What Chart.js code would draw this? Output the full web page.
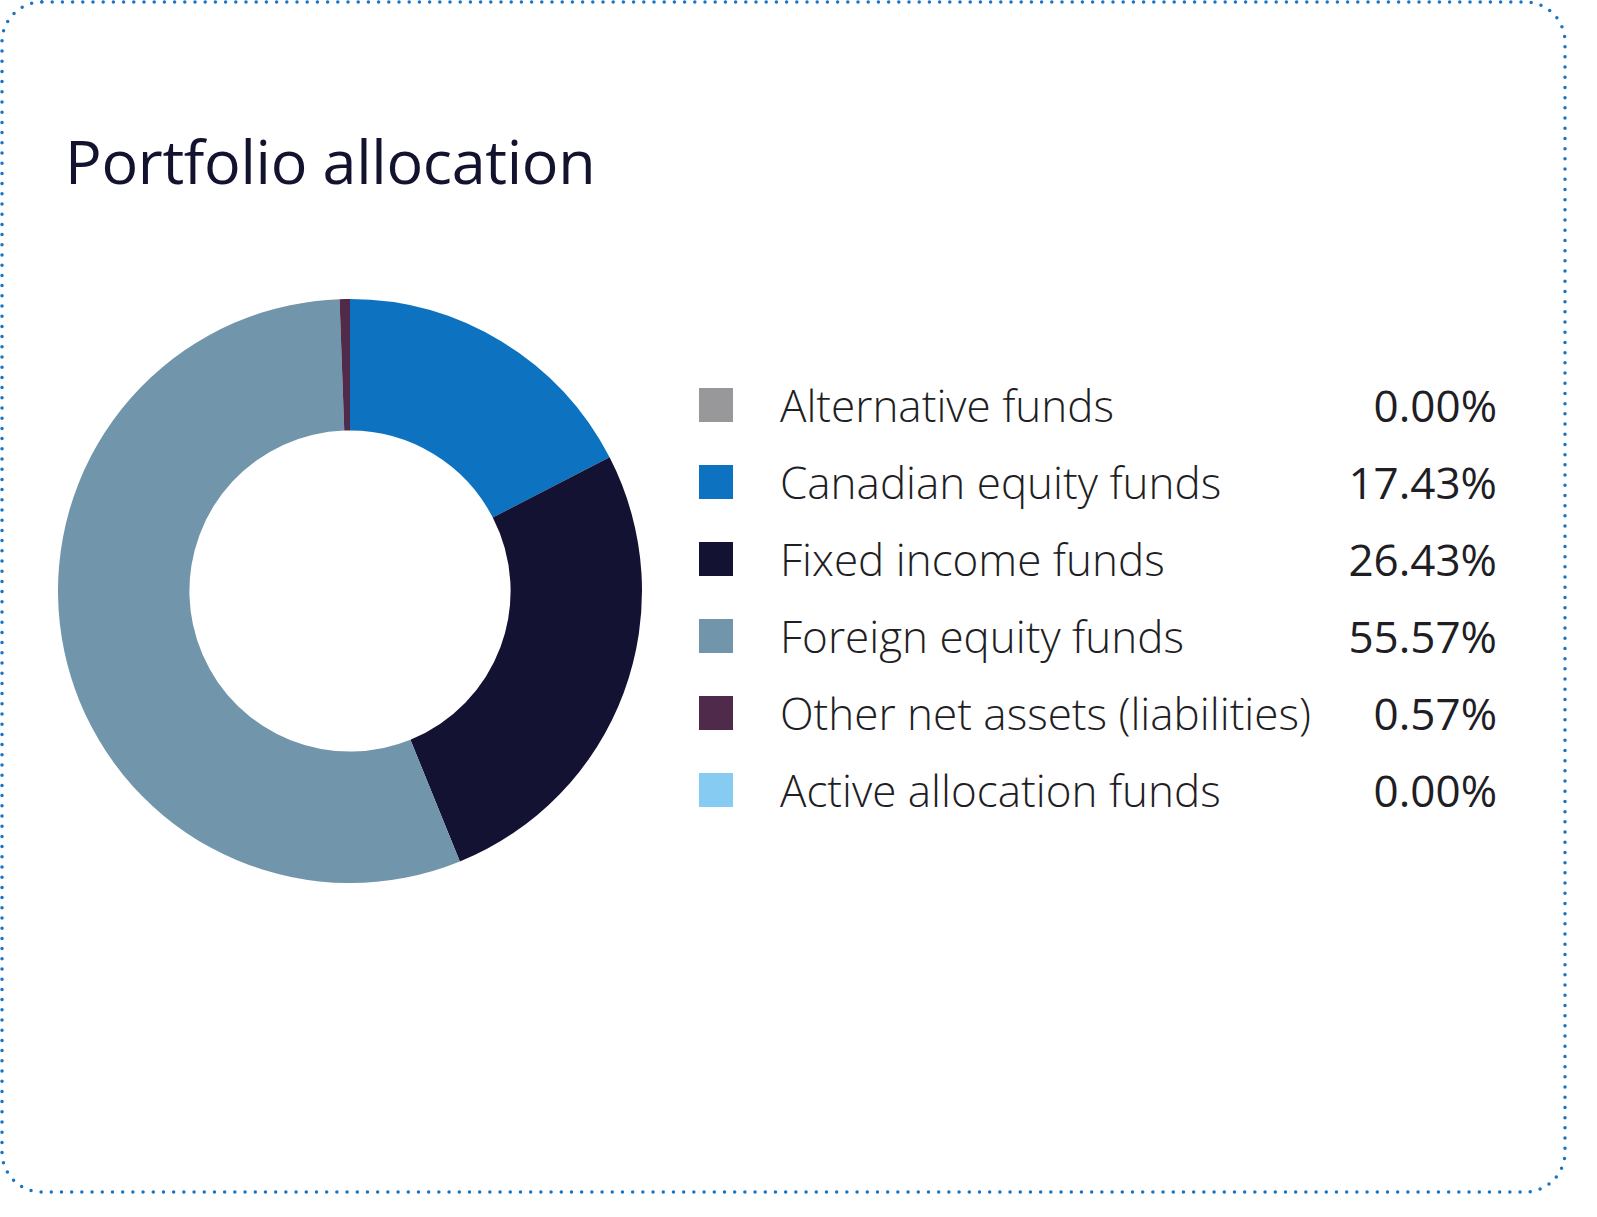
<!DOCTYPE html>
<html>
<head>
<meta charset="utf-8">
<title>Portfolio allocation</title>
<script src="https://cdn.jsdelivr.net/npm/chart.js@4"></script>
<style>
    html, body { margin: 0; padding: 0; background: #fff; }
    body { width: 1597px; height: 1217px; position: relative; overflow: hidden; font-family: 'Open Sans', sans-serif; }
    .frame { position: absolute; left: 0; top: 0; }
    .title { position: absolute; left: 65px; top: 119px; margin: 0; font-weight: 400; font-size: 61px; color: #13132f; letter-spacing: -0.3px; }
    .chart-box { position: absolute; left: 50px; top: 291px; width: 600px; height: 600px; }
    .legend { position: absolute; left: 699px; top: 366px; width: 798px; margin: 0; padding: 0; list-style: none; }
    .legend li { height: 77px; display: flex; align-items: center; }
    .legend .swatch { width: 34px; height: 34px; flex: none; }
    .legend .label { margin-left: 47px; font-size: 44px; font-weight: 300; color: #1e1e24; font-stretch: 90%; white-space: nowrap; }
    .legend .value { margin-left: auto; font-size: 44px; font-weight: 400; color: #1e1e24; font-stretch: 90%; }
</style>
</head>
<body>
<svg class="frame" width="1597" height="1217">
    <rect x="2" y="2" width="1563" height="1190" rx="40" ry="40" fill="none" stroke="#1a74c0" stroke-width="3.5" stroke-dasharray="0 10.2" stroke-linecap="round"/>
</svg>
<h1 class="title">Portfolio allocation</h1>
<div class="chart-box"><canvas id="allocationChart"></canvas></div>
<ul class="legend" id="legend"></ul>

<script>
// ─── Data ────────────────────────────────────────────────────────────────────
const categories = ['Alternative funds', 'Canadian equity funds', 'Fixed income funds', 'Foreign equity funds', 'Other net assets (liabilities)', 'Active allocation funds'];
const weights = [0.00, 17.43, 26.43, 55.57, 0.57, 0.00];
const sliceColors = ['#98989a', '#0d72bf', '#131233', '#7195aa', '#4f2a4a', '#86ccf2'];

// ─── Doughnut ────────────────────────────────────────────────────────────────
const ctx = document.getElementById('allocationChart');
new Chart(ctx.getContext('2d'), {
    type: 'doughnut',
    data: {
        labels: categories,
        datasets: [{
            data: weights,
            backgroundColor: sliceColors,
            borderWidth: 0
        }]
    },
    options: {
        responsive: true,
        maintainAspectRatio: false,
        animation: false,
        cutout: '55%',
        layout: { padding: 8 },
        plugins: {
            legend: { display: false },
            tooltip: { enabled: true }
        }
    }
});

// ─── Legend (HTML, built from the same arrays) ──────────────────────────────
const legend = document.getElementById('legend');
categories.forEach((name, i) => {
    const li = document.createElement('li');
    li.innerHTML = '<span class="swatch" style="background:' + sliceColors[i] + '"></span>' +
        '<span class="label">' + name + '</span>' +
        '<span class="value">' + weights[i].toFixed(2) + '%</span>';
    legend.appendChild(li);
});
</script>
</body>
</html>
